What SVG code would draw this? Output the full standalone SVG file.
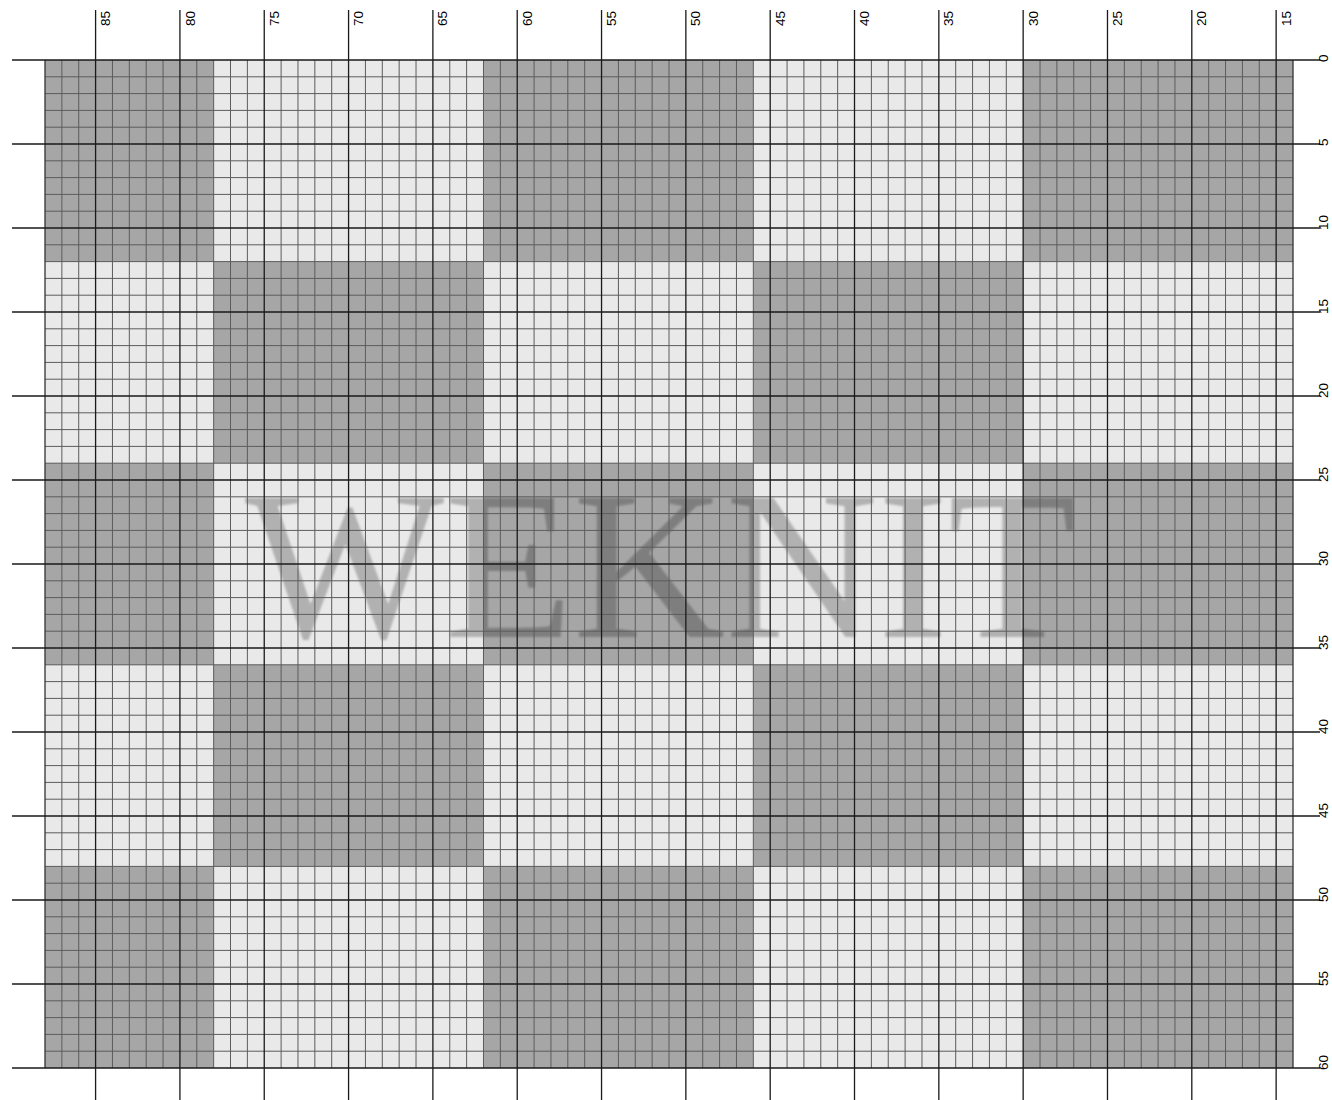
<svg xmlns="http://www.w3.org/2000/svg" width="1332" height="1100" viewBox="0 0 1332 1100">
<style>
.light{fill:#e9e9e9}
.dark{fill:#a6a6a6}
.minor{fill:none;stroke:#5c5c5c;stroke-width:1}
.major{fill:none;stroke:#1a1a1a;stroke-width:1.3}
.border{fill:none;stroke:#333;stroke-width:1.3}
.lbl{font-family:"Liberation Sans",Arial,sans-serif;font-size:13.5px;fill:#000}
.wm{font-family:"Liberation Serif","Times New Roman",serif;font-size:211px;fill:#000;fill-opacity:0.24}
</style>
<defs>
<filter id="soft" x="-5%" y="-5%" width="110%" height="110%"><feGaussianBlur stdDeviation="0.8"/></filter>
</defs>
<rect width="1332" height="1100" fill="#fff"/>
<g id="cells">
<rect class="light" x="45" y="60" width="1248" height="1008"/>
<rect class="dark" x="45" y="60" width="168.65" height="201.6"/>
<rect class="dark" x="483.49" y="60" width="269.83" height="201.6"/>
<rect class="dark" x="1023.16" y="60" width="269.84" height="201.6"/>
<rect class="dark" x="213.65" y="261.6" width="269.84" height="201.6"/>
<rect class="dark" x="753.32" y="261.6" width="269.84" height="201.6"/>
<rect class="dark" x="45" y="463.2" width="168.65" height="201.6"/>
<rect class="dark" x="483.49" y="463.2" width="269.83" height="201.6"/>
<rect class="dark" x="1023.16" y="463.2" width="269.84" height="201.6"/>
<rect class="dark" x="213.65" y="664.8" width="269.84" height="201.6"/>
<rect class="dark" x="753.32" y="664.8" width="269.84" height="201.6"/>
<rect class="dark" x="45" y="866.4" width="168.65" height="201.6"/>
<rect class="dark" x="483.49" y="866.4" width="269.83" height="201.6"/>
<rect class="dark" x="1023.16" y="866.4" width="269.84" height="201.6"/>
</g>
<g id="watermark" filter="url(#soft)">
<text class="wm" x="245" y="637">WEKNIT</text>
</g>
<g id="grid-minor">
<path class="minor" d="M61.86 60V1068M78.73 60V1068M112.46 60V1068M129.32 60V1068M146.19 60V1068M163.05 60V1068M196.78 60V1068M213.65 60V1068M230.51 60V1068M247.38 60V1068M281.11 60V1068M297.97 60V1068M314.84 60V1068M331.7 60V1068M365.43 60V1068M382.3 60V1068M399.16 60V1068M416.03 60V1068M449.76 60V1068M466.62 60V1068M483.49 60V1068M500.35 60V1068M534.08 60V1068M550.95 60V1068M567.81 60V1068M584.68 60V1068M618.41 60V1068M635.27 60V1068M652.14 60V1068M669 60V1068M702.73 60V1068M719.59 60V1068M736.46 60V1068M753.32 60V1068M787.05 60V1068M803.92 60V1068M820.78 60V1068M837.65 60V1068M871.38 60V1068M888.24 60V1068M905.11 60V1068M921.97 60V1068M955.7 60V1068M972.57 60V1068M989.43 60V1068M1006.3 60V1068M1040.03 60V1068M1056.89 60V1068M1073.76 60V1068M1090.62 60V1068M1124.35 60V1068M1141.22 60V1068M1158.08 60V1068M1174.95 60V1068M1208.68 60V1068M1225.54 60V1068M1242.41 60V1068M1259.27 60V1068"/>
<path class="minor" d="M45 76.8H1293M45 93.6H1293M45 110.4H1293M45 127.2H1293M45 160.8H1293M45 177.6H1293M45 194.4H1293M45 211.2H1293M45 244.8H1293M45 261.6H1293M45 278.4H1293M45 295.2H1293M45 328.8H1293M45 345.6H1293M45 362.4H1293M45 379.2H1293M45 412.8H1293M45 429.6H1293M45 446.4H1293M45 463.2H1293M45 496.8H1293M45 513.6H1293M45 530.4H1293M45 547.2H1293M45 580.8H1293M45 597.6H1293M45 614.4H1293M45 631.2H1293M45 664.8H1293M45 681.6H1293M45 698.4H1293M45 715.2H1293M45 748.8H1293M45 765.6H1293M45 782.4H1293M45 799.2H1293M45 832.8H1293M45 849.6H1293M45 866.4H1293M45 883.2H1293M45 916.8H1293M45 933.6H1293M45 950.4H1293M45 967.2H1293M45 1000.8H1293M45 1017.6H1293M45 1034.4H1293M45 1051.2H1293"/>
</g>
<g id="grid-major">
<path class="border" d="M45 60V1068M1293 60V1068"/>
<path class="major" d="M95.59 10V1100M179.92 10V1100M264.24 10V1100M348.57 10V1100M432.89 10V1100M517.22 10V1100M601.54 10V1100M685.86 10V1100M770.19 10V1100M854.51 10V1100M938.84 10V1100M1023.16 10V1100M1107.49 10V1100M1191.81 10V1100M1276.14 10V1100"/>
<path class="major" d="M12 60H1320M12 144H1320M12 228H1320M12 312H1320M12 396H1320M12 480H1320M12 564H1320M12 648H1320M12 732H1320M12 816H1320M12 900H1320M12 984H1320M12 1068H1320"/>
</g>
<g id="column-labels">
<text class="lbl" transform="translate(110.2,26) rotate(-90)">85</text>
<text class="lbl" transform="translate(194.5,26) rotate(-90)">80</text>
<text class="lbl" transform="translate(278.8,26) rotate(-90)">75</text>
<text class="lbl" transform="translate(363.1,26) rotate(-90)">70</text>
<text class="lbl" transform="translate(447.4,26) rotate(-90)">65</text>
<text class="lbl" transform="translate(531.8,26) rotate(-90)">60</text>
<text class="lbl" transform="translate(616.1,26) rotate(-90)">55</text>
<text class="lbl" transform="translate(700.4,26) rotate(-90)">50</text>
<text class="lbl" transform="translate(784.7,26) rotate(-90)">45</text>
<text class="lbl" transform="translate(869.1,26) rotate(-90)">40</text>
<text class="lbl" transform="translate(953.4,26) rotate(-90)">35</text>
<text class="lbl" transform="translate(1037.7,26) rotate(-90)">30</text>
<text class="lbl" transform="translate(1122,26) rotate(-90)">25</text>
<text class="lbl" transform="translate(1206.4,26) rotate(-90)">20</text>
<text class="lbl" transform="translate(1290.7,26) rotate(-90)">15</text>
</g>
<g id="row-labels">
<text class="lbl" transform="translate(1328,62) rotate(-90)">0</text>
<text class="lbl" transform="translate(1328,146) rotate(-90)">5</text>
<text class="lbl" transform="translate(1328,230) rotate(-90)">10</text>
<text class="lbl" transform="translate(1328,314) rotate(-90)">15</text>
<text class="lbl" transform="translate(1328,398) rotate(-90)">20</text>
<text class="lbl" transform="translate(1328,482) rotate(-90)">25</text>
<text class="lbl" transform="translate(1328,566) rotate(-90)">30</text>
<text class="lbl" transform="translate(1328,650) rotate(-90)">35</text>
<text class="lbl" transform="translate(1328,734) rotate(-90)">40</text>
<text class="lbl" transform="translate(1328,818) rotate(-90)">45</text>
<text class="lbl" transform="translate(1328,902) rotate(-90)">50</text>
<text class="lbl" transform="translate(1328,986) rotate(-90)">55</text>
<text class="lbl" transform="translate(1328,1070) rotate(-90)">60</text>
</g>
</svg>
